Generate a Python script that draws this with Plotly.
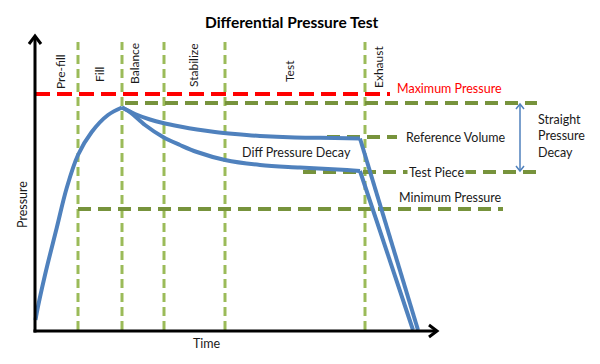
import plotly.graph_objects as go

# ---- data (time t, pressure p; schematic units, origin at axes corner) ----
phase_names = ["Pre-fill", "Fill", "Balance", "Stabilize", "Test", "Exhaust"]
phase_bounds_t = [43, 87, 129, 190, 330]          # dashed vertical phase boundaries
phase_label_t = [25, 64, 99, 158, 254, 343]
phase_label_p = [258, 255, 266, 264, 259, 263]
phase_top_p = 288

max_pressure = 236
straight_start = 227
reference_level = 193
testpiece_level = 158
min_pressure = 121

fill_t = [0.5, 1.7, 10, 21.7, 31.7, 43, 56.7, 73, 87]
fill_p = [10, 17, 55, 102, 142, 175, 198, 215, 222.5]

ref_decay_t = [87, 100, 115, 128, 145, 162, 180, 200, 225, 260, 300, 325]
ref_decay_p = [222.5, 216, 210.5, 207, 203.5, 200.5, 198, 196, 194, 192.5, 192, 191.5]
ref_drop_t = [325, 383]
ref_drop_p = [191.5, 0]

test_decay_t = [87, 95, 110, 128, 145, 162, 190, 225, 265, 312, 325]
test_decay_p = [222.5, 218, 205, 193, 185, 178, 170, 165, 162.5, 160, 159]
test_drop_t = [325, 378]
test_drop_p = [159, 0]

BLUE = "#4f81bd"
GREEN_V = "#9bbb59"
GREEN_H = "#77933c"
RED = "#ff0000"
FONT = "Lato"

fig = go.Figure()

def line(t, p, color, width, dash="solid", shape="linear"):
    fig.add_trace(go.Scatter(x=t, y=p, mode="lines", hoverinfo="skip",
                             line=dict(color=color, width=width, dash=dash, shape=shape),
                             showlegend=False))

# vertical phase boundaries
for b in phase_bounds_t:
    line([b, b], [0, phase_top_p], GREEN_V, 3, "9px,5px")

# horizontal levels
line([0, 355], [max_pressure, max_pressure], RED, 4, "15px,7px")
line([90, 502], [straight_start, straight_start], GREEN_H, 4, "13px,7px")
line([292, 362], [reference_level, reference_level], GREEN_H, 4, "13px,7px")
line([268, 502], [testpiece_level, testpiece_level], GREEN_H, 4, "13px,7px")
line([43, 468], [min_pressure, min_pressure], GREEN_H, 4, "13px,7px")

# pressure curves
line(fill_t, fill_p, BLUE, 4, shape="spline")
line(ref_decay_t, ref_decay_p, BLUE, 4, shape="spline")
line(test_decay_t, test_decay_p, BLUE, 4, shape="spline")
line(ref_drop_t, ref_drop_p, BLUE, 4)
line(test_drop_t, test_drop_p, BLUE, 4)

# axes with open arrowheads
line([0, 0], [-2.5, 294], "black", 3)
line([-6, 0, 6], [286, 294, 286], "black", 3)
line([-1.5, 402], [-1, -1], "black", 3)
line([394, 402, 394], [5, -1, -7], "black", 3)

# straight pressure decay double arrow
line([485, 485], [straight_start - 1, testpiece_level + 1], BLUE, 1.5)
line([481, 485, 489], [221, 226, 221], BLUE, 1.5)
line([481, 485, 489], [164, 159, 164], BLUE, 1.5)

ann = []
def text(t, p, s, size=12.5, color="#1a1a1a", xanchor="center", angle=0, bold=False, bg=None, align="center"):
    d = dict(x=t, y=p, xref="x", yref="y", text=f"<b>{s}</b>" if bold else s,
             showarrow=False, xanchor=xanchor, yanchor="middle", textangle=angle,
             font=dict(family=FONT, size=size, color=color), align=align)
    if bg:
        d["bgcolor"] = bg
    ann.append(d)

text(256, 308, "Differential Pressure Test", size=15.5, color="black", bold=True)
for name, t, p in zip(phase_names, phase_label_t, phase_label_p):
    text(t, p, name, size=12, angle=-90)
text(360, 242, "Maximum Pressure", color=RED, xanchor="left")
text(369, reference_level, "Reference Volume", xanchor="left")
text(372, testpiece_level, "Test Piece", xanchor="left", bg="white")
text(362, 133, "Minimum Pressure", xanchor="left")
text(501, 194, "Straight<br>Pressure<br>Decay", xanchor="left", align="left")
text(261, 178, "Diff Pressure Decay")
text(-13, 125, "Pressure", angle=-90)
text(172, -13, "Time")

# the page body adds an 8px offset; ranges compensate so 1 unit = 1 px
fig.update_layout(
    width=600, height=364, autosize=False,
    margin=dict(l=0, r=0, t=0, b=0),
    paper_bgcolor="white", plot_bgcolor="white",
    xaxis=dict(range=[-27, 573], visible=False, fixedrange=True),
    yaxis=dict(range=[-42, 322], visible=False, fixedrange=True),
    annotations=ann,
)
fig.write_html("out.html")
